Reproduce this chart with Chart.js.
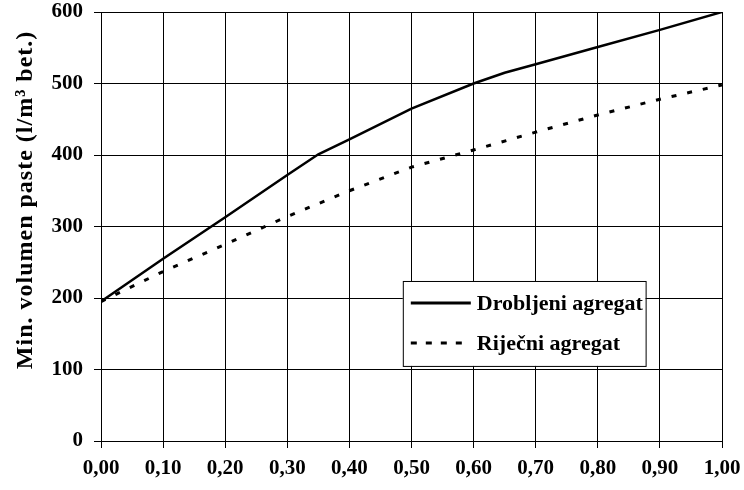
<!DOCTYPE html>
<html>
<head>
<meta charset="utf-8">
<script src="https://cdn.jsdelivr.net/npm/chart.js@4.4.1/dist/chart.umd.min.js"></script>
<style>
  html, body { margin: 0; padding: 0; background: #fff; }
  #wrap { width: 744px; height: 490px; }
</style>
</head>
<body>
<div id="wrap"><canvas id="chart"></canvas></div>
<script>
// x positions (share of paste) and minimum paste volume
const crushedX = [0.00, 0.10, 0.20, 0.30, 0.35, 0.40, 0.50, 0.60, 0.65, 0.70, 0.80, 0.90, 1.00];
const crushedY = [195, 255, 313, 372, 401, 422, 465, 500, 515, 527, 551, 575, 600];
const riverX = [0.00, 0.10, 0.20, 0.30, 0.40, 0.50, 0.60, 0.70, 0.80, 0.90, 1.00];
const riverY = [195, 237, 275, 314, 350, 383, 407, 432, 456, 478, 498];
const seriesNames = ["Drobljeni agregat", "Riječni agregat"];
const yTitle = "Min. volumen paste (l/m³ bet.)";

const FONT = "'Liberation Serif', 'Times New Roman', serif";

function toPoints(xs, ys) {
  return xs.map((x, i) => ({ x: x, y: ys[i] }));
}

// y axis title, sits a bit above the middle of the plot like in the original
const yTitlePlugin = {
  id: "yTitlePlugin",
  afterDraw(chart) {
    const ctx = chart.ctx;
    const area = chart.chartArea;
    ctx.save();
    ctx.translate(26, area.top + (area.bottom - area.top) * 0.438);
    ctx.rotate(-Math.PI / 2);
    ctx.fillStyle = "#000";
    ctx.font = "bold 24px " + FONT;
    ctx.letterSpacing = "1px";
    ctx.textAlign = "center";
    ctx.textBaseline = "middle";
    ctx.fillText(yTitle, 0, 0);
    ctx.restore();
  },
};

// legend drawn as a boxed key inside the plot, bottom right
const boxLegend = {
  id: "boxLegend",
  afterDraw(chart) {
    const ctx = chart.ctx;
    const area = chart.chartArea;
    const w = area.right - area.left;
    const h = area.bottom - area.top;
    const left = area.left + w * 0.486;
    const right = area.left + w * 0.877;
    const top = area.top + h * 0.627;
    const bottom = area.top + h * 0.825;

    ctx.save();
    ctx.fillStyle = "#fff";
    ctx.fillRect(left, top, right - left, bottom - top);
    ctx.strokeStyle = "#000";
    ctx.lineWidth = 1;
    ctx.strokeRect(left + 0.5, top + 0.5, right - left, bottom - top);

    const rows = [top + (bottom - top) * 0.26, top + (bottom - top) * 0.73];
    chart.data.datasets.forEach((ds, i) => {
      const y = rows[i];
      ctx.beginPath();
      ctx.strokeStyle = "#000";
      ctx.lineWidth = 3;
      ctx.setLineDash(i === 0 ? [] : [6, 9]);
      ctx.moveTo(left + 8, y);
      ctx.lineTo(left + 68, y);
      ctx.stroke();
      ctx.setLineDash([]);
      ctx.fillStyle = "#000";
      ctx.font = "bold 22px " + FONT;
      ctx.textBaseline = "middle";
      ctx.textAlign = "left";
      ctx.fillText(ds.label, left + 74, y + 1);
    });
    ctx.restore();
  },
};

new Chart(document.getElementById("chart"), {
  type: "line",
  data: {
    datasets: [
      {
        label: seriesNames[0],
        data: toPoints(crushedX, crushedY),
        borderColor: "#000",
        borderWidth: 2.5,
        pointRadius: 0,
        tension: 0,
      },
      {
        label: seriesNames[1],
        data: toPoints(riverX, riverY),
        borderColor: "#000",
        borderWidth: 3,
        borderDash: [5, 11],
        pointRadius: 0,
        tension: 0,
      },
    ],
  },
  options: {
    responsive: true,
    maintainAspectRatio: false,
    animation: false,
    layout: { padding: { top: 12, right: 22, left: 0, bottom: 0 } },
    plugins: {
      legend: { display: false },
      tooltip: { enabled: false },
    },
    scales: {
      x: {
        type: "linear",
        min: 0,
        max: 1,
        afterFit: (scale) => {
          scale.height = 49;
          scale.paddingLeft = 0;
          scale.paddingRight = 0;
        },
        ticks: {
          stepSize: 0.1,
          color: "#000",
          padding: 8,
          maxRotation: 0,
          font: { family: FONT, size: 21, weight: "bold" },
          callback: (v) => v.toFixed(2).replace(".", ","),
        },
        grid: { color: "#000", lineWidth: 1, tickLength: 7 },
        border: { color: "#000", width: 1 },
      },
      y: {
        min: 0,
        max: 600,
        afterFit: (scale) => {
          scale.width = 101;
          scale.paddingTop = 0;
          scale.paddingBottom = 0;
        },
        ticks: {
          stepSize: 100,
          color: "#000",
          padding: 11,
          font: { family: FONT, size: 21, weight: "bold" },
        },
        grid: { color: "#000", lineWidth: 1, tickLength: 7 },
        border: { color: "#000", width: 1 },
      },
    },
  },
  plugins: [boxLegend, yTitlePlugin],
});
</script>
</body>
</html>
